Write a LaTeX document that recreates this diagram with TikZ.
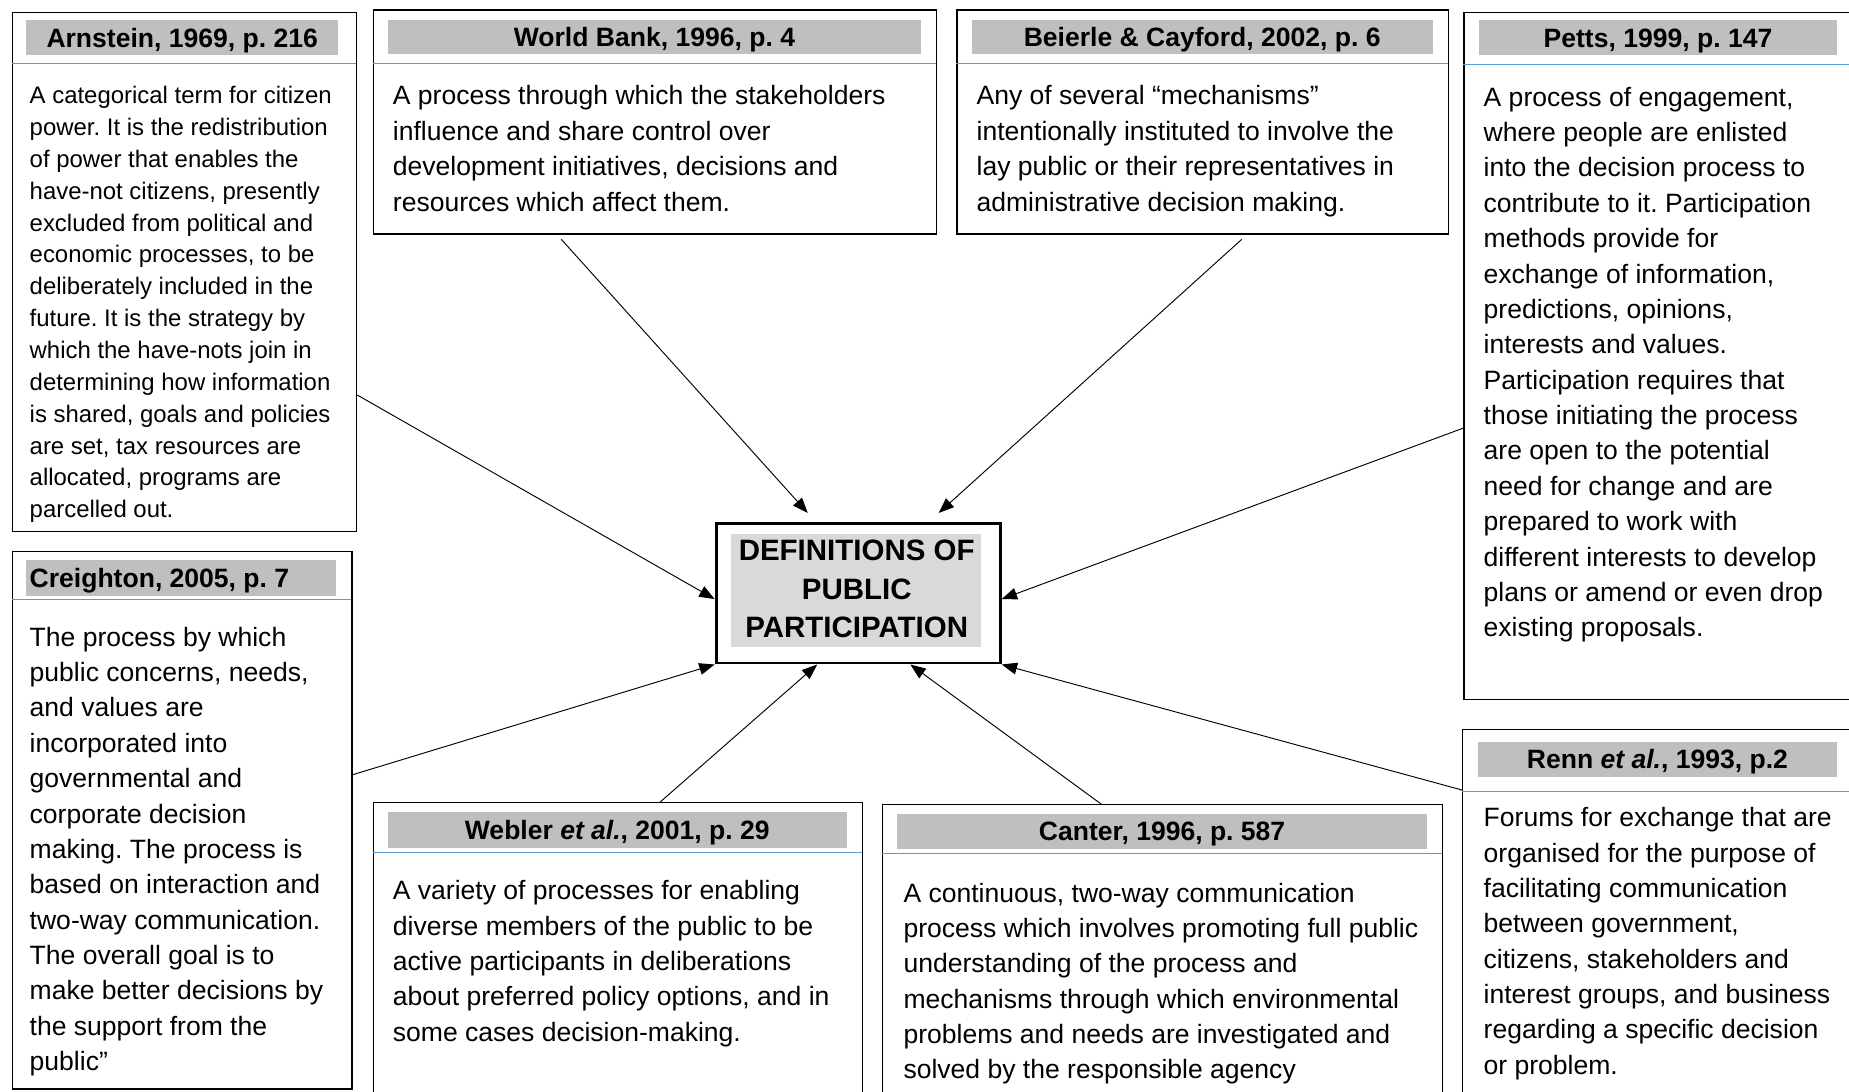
\documentclass[tikz,border=0pt]{standalone}
\usepackage{fontspec}
\setmainfont{Liberation Sans}
\usetikzlibrary{arrows.meta,calc}
\definecolor{hdrgray}{RGB}{191,191,191}
\definecolor{ctrgray}{RGB}{217,217,217}
\definecolor{rulebl}{RGB}{91,155,213}
\frenchspacing

\begin{document}
\begin{tikzpicture}[x=1pt,y=-1pt,
  refbox/.style={draw=black, line width=1pt, fill=white, anchor=north west,
                 inner sep=0pt, rectangle},
  hdrfill/.style={fill=hdrgray},
  hdrtext/.style={font=\fontsize{22.5}{27}\selectfont\bfseries, inner sep=0pt, anchor=base},
  hdrleft/.style={hdrtext, anchor=base west},
  % multi-line texts are placed by the baseline of their last line
  bodytext/.style={font=\fontsize{22.5}{30}\selectfont, align=left, inner sep=0pt, anchor=base west},
  smalltext/.style={bodytext, font=\fontsize{20.3}{27}\selectfont},
  bluerule/.style={draw=rulebl, line width=0.9pt},
  ctrbox/.style={draw=black, line width=2.5pt, fill=white, anchor=north west, inner sep=0pt},
  ctrtext/.style={font=\fontsize{25}{33}\selectfont\bfseries, align=center, inner sep=0pt, anchor=base},
  link/.style={draw=black, line width=0.8pt, -{Triangle[length=13pt,width=10pt]}}
]
\useasboundingbox (0,0) rectangle (1568,926);
\clip (0,0) rectangle (1568,926);
\fill[white] (0,0) rectangle (1568,926);

% ---------- Arnstein ----------
\node[refbox, minimum width=292pt, minimum height=440pt] (arn) at (10,10) {};
\fill[hdrfill] (22,17) rectangle (287,47);
\node[hdrtext] (arnh) at (154.5,40) {Arnstein, 1969, p. 216};
\draw[bluerule] (10,54) -- (302,54);
\node[smalltext] (arnb) at (25,439) {A categorical term for citizen\\
power. It is the redistribution\\
of power that enables the\\
have-not citizens, presently\\
excluded from political and\\
economic processes, to be\\
deliberately included in the\\
future. It is the strategy by\\
which the have-nots join in\\
determining how information\\
is shared, goals and policies\\
are set, tax resources are\\
allocated, programs are\\
parcelled out.};

% ---------- World Bank ----------
\node[refbox, minimum width=478pt, minimum height=190pt] (wb) at (316,8) {};
\fill[hdrfill] (329,17) rectangle (781,46);
\node[hdrtext] (wbh) at (555,39.5) {World Bank, 1996, p. 4};
\draw[bluerule] (316,54) -- (794,54);
\node[bodytext] (wbb) at (333,179) {A process through which the stakeholders\\
influence and share control over\\
development initiatives, decisions and\\
resources which affect them.};

% ---------- Beierle & Cayford ----------
\node[refbox, minimum width=417pt, minimum height=190pt] (bei) at (811,8) {};
\fill[hdrfill] (824,17) rectangle (1215,46);
\node[hdrtext] (beih) at (1019.5,39.5) {Beierle \& Cayford, 2002, p. 6};
\draw[bluerule] (811,54) -- (1228,54);
\node[bodytext] (beib) at (828,179) {Any of several “mechanisms”\\
intentionally instituted to involve the\\
lay public or their representatives in\\
administrative decision making.};

% ---------- Petts ----------
\node[refbox, minimum width=400pt, minimum height=583pt] (pet) at (1241,10) {};
\fill[hdrfill] (1254,17) rectangle (1558,47);
\node[hdrtext] (peth) at (1406,40) {Petts, 1999, p. 147};
\draw[bluerule] (1241,55) -- (1641,55);
\node[bodytext] (petb) at (1258,540) {A process of engagement,\\
where people are enlisted\\
into the decision process to\\
contribute to it. Participation\\
methods provide for\\
exchange of information,\\
predictions, opinions,\\
interests and values.\\
Participation requires that\\
those initiating the process\\
are open to the potential\\
need for change and are\\
prepared to work with\\
different interests to develop\\
plans or amend or even drop\\
existing proposals.};

% ---------- Creighton ----------
\node[refbox, minimum width=288pt, minimum height=456pt] (cre) at (10,467) {};
\fill[hdrfill] (22,475) rectangle (285,505);
\node[hdrleft] (creh) at (25,498) {Creighton, 2005, p. 7};
\draw[bluerule] (10,508) -- (298,508);
\node[bodytext] (creb) at (25,908) {The process by which\\
public concerns, needs,\\
and values are\\
incorporated into\\
governmental and\\
corporate decision\\
making. The process is\\
based on interaction and\\
two-way communication.\\
The overall goal is to\\
make better decisions by\\
the support from the\\
public”};

% ---------- Webler et al. ----------
\node[refbox, minimum width=415pt, minimum height=280pt] (web) at (316,680) {};
\fill[hdrfill] (329,689) rectangle (718,719);
\node[hdrtext] (webh) at (523.5,712) {Webler \textit{et al.}, 2001, p. 29};
\draw[bluerule] (316,723) -- (731,723);
\node[bodytext] (webb) at (333,883) {A variety of processes for enabling\\
diverse members of the public to be\\
active participants in deliberations\\
about preferred policy options, and in\\
some cases decision-making.};

% ---------- Canter ----------
\node[refbox, minimum width=475pt, minimum height=280pt] (can) at (748,682) {};
\fill[hdrfill] (761,690) rectangle (1210,720);
\node[hdrtext] (canh) at (985.5,713) {Canter, 1996, p. 587};
\draw[bluerule] (748,724) -- (1223,724);
\node[bodytext] (canb) at (766,915) {A continuous, two-way communication\\
process which involves promoting full public\\
understanding of the process and\\
mechanisms through which environmental\\
problems and needs are investigated and\\
solved by the responsible agency};

% ---------- Renn et al. ----------
\node[refbox, minimum width=400pt, minimum height=340pt] (ren) at (1240,618) {};
\fill[hdrfill] (1253,629) rectangle (1558,659);
\node[hdrtext] (renh) at (1405.5,652) {Renn \textit{et al.}, 1993, p.2};
\draw[bluerule] (1240,671) -- (1640,671);
\node[bodytext] (renb) at (1258,911) {Forums for exchange that are\\
organised for the purpose of\\
facilitating communication\\
between government,\\
citizens, stakeholders and\\
interest groups, and business\\
regarding a specific decision\\
or problem.};

% ---------- central box ----------
\node[ctrbox, minimum width=241pt, minimum height=118pt] (ctr) at (606,443) {};
\fill[ctrgray] (620,453) rectangle (832,549);
\node[ctrtext] (ctrt) at (726.5,541) {DEFINITIONS OF\\ PUBLIC\\ PARTICIPATION};

% ---------- connectors ----------
\draw[link] ([yshift=-325pt]arn.north east) -- ([yshift=-65pt]ctr.north west);
\draw[link] ([xshift=160pt,yshift=-4pt]wb.south west) -- ([xshift=79pt,yshift=8pt]ctr.north west);
\draw[link] ([xshift=242pt,yshift=-4pt]bei.south west) -- ([xshift=190pt,yshift=8pt]ctr.north west);
\draw[link] ([yshift=-353pt]pet.north west) -- ([yshift=-65pt]ctr.north east);
\draw[link] ([yshift=-190pt]cre.north east) -- (ctr.south west);
\draw[link] ([xshift=244pt]web.north west) -- ([xshift=87pt]ctr.south west);
\draw[link] ([xshift=186pt]can.north west) -- ([xshift=166pt]ctr.south west);
\draw[link] ([yshift=-52pt]ren.north west) -- (ctr.south east);
\end{tikzpicture}
\end{document}
